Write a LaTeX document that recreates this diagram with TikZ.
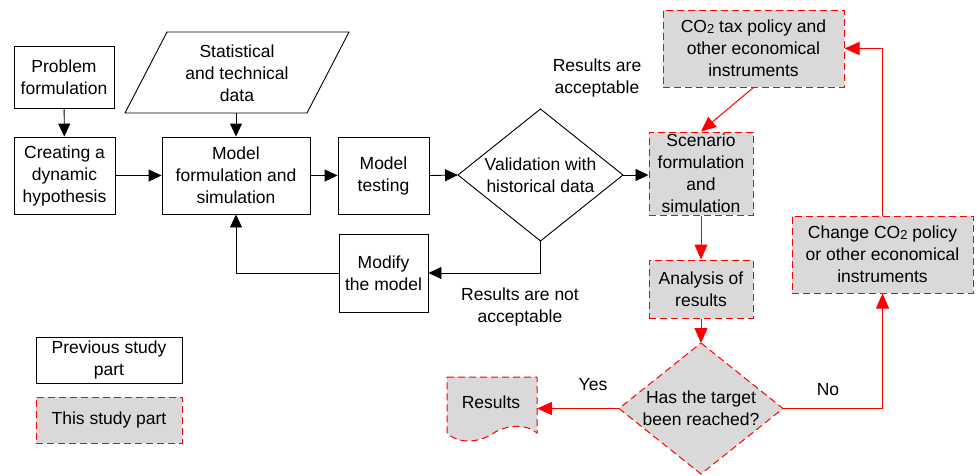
\documentclass[tikz,border=0pt]{standalone}
\usepackage{fontspec}
\setmainfont{Liberation Sans}
\usetikzlibrary{arrows.meta}
\definecolor{boxgray}{HTML}{D9D9D9}
\newcommand{\cotwo}{CO\raisebox{-0.5pt}{\fontsize{13}{13}\selectfont 2}}
\tikzset{
  base/.style={font=\fontsize{17.5}{22}\selectfont, align=center, inner sep=0pt},
  prev/.style={base, draw=black, line width=0.9pt, fill=white},
  this/.style={base, draw=red, fill=boxgray, line width=1pt, dash pattern=on 7pt off 4pt},
  blk/.style={-{Triangle[length=13pt,width=12pt]}, line width=0.9pt, black},
  rd/.style={-{Triangle[length=15pt,width=13pt]}, line width=1pt, red},
  lbl/.style={base},
}
\begin{document}
\begin{tikzpicture}[x=1pt,y=-1pt]
\useasboundingbox (0,0) rectangle (977,475);
% left column
\node[prev, minimum width=100pt, minimum height=62pt] (prob) at (64,77) {Problem\\formulation};
\node[prev, minimum width=101pt, minimum height=77pt] (hyp) at (64.5,175.5) {Creating a\\dynamic\\hypothesis};
% data parallelogram
\draw[line width=0.9pt] (167,32) -- (349,32) -- (307,113) -- (125,113) -- cycle;
\node[base] (data) at (237,73) {Statistical\\and technical\\data};
\coordinate (dbot) at (236,113);
\node[prev, minimum width=148pt, minimum height=77pt] (mf) at (236,175.5) {Model\\formulation and\\simulation};
\node[prev, minimum width=91pt, minimum height=77pt] (mt) at (383.5,175.5) {Model\\testing};
% validation diamond
\coordinate (v1n) at (540.5,109);
\coordinate (v1e) at (623,175);
\coordinate (v1s) at (540.5,241);
\coordinate (v1w) at (458,175);
\draw[line width=0.9pt] (v1n) -- (v1e) -- (v1s) -- (v1w) -- cycle;
\node[base] (val) at (540.5,175) {Validation with\\historical data};
\node[prev, minimum width=89pt, minimum height=78pt] (mod) at (383.5,273) {Modify\\the model};
% labels
\node[lbl] (acc) at (597,78) {Results are\\acceptable};
\node[lbl] (nacc) at (520,307) {Results are not\\acceptable};
% right part
\node[this, minimum width=181pt, minimum height=77pt] (tax) at (753.5,48.5) {\cotwo{} tax policy and\\other economical\\instruments};
\node[this, minimum width=104pt, minimum height=83pt] (scen) at (701,173.5) {Scenario\\formulation\\and\\simulation};
\node[this, minimum width=104pt, minimum height=58pt] (ana) at (701,289) {Analysis of\\results};
\node[this, minimum width=181pt, minimum height=77pt] (chg) at (882.5,254.5) {Change \cotwo{} policy\\or other economical\\instruments};
% target diamond
\coordinate (v2n) at (701,343);
\coordinate (v2e) at (783,408.5);
\coordinate (v2s) at (701,474);
\coordinate (v2w) at (619,408.5);
\draw[red, fill=boxgray, line width=1pt, dash pattern=on 7pt off 4pt] (v2n) -- (v2e) -- (v2s) -- (v2w) -- cycle;
\node[base] (tgt) at (701,408.5) {Has the target\\been reached?};
% results document
\draw[red, fill=boxgray, line width=1pt, dash pattern=on 7pt off 4pt]
  (447,377) -- (537,377) -- (537,433)
  .. controls (527,424) and (507,424) .. (492,434)
  .. controls (478,443) and (458,444) .. (447,433) -- cycle;
\node[base] (res) at (491,402) {Results};
\coordinate (rese) at (537,408.5);
% legend
\node[prev, minimum width=146pt, minimum height=46pt] (lg1) at (109,360) {Previous study\\part};
\node[this, minimum width=146pt, minimum height=46pt] (lg2) at (109,420) {This study part};
% yes / no
\node[lbl] (yes) at (593,385) {Yes};
\node[lbl] (no) at (828,390) {No};
% black connectors
\draw[blk] (prob) -- (hyp);
\draw[blk] (hyp) -- (mf);
\draw[blk] (dbot) -- (mf.north);
\draw[blk] (mf) -- (mt);
\draw[blk] (mt.east) -- (v1w);
\draw[blk] (v1e) -- (v1e -| scen.west);
\draw[blk] (v1s) |- (mod.east);
\draw[blk] (mod.west) -| (mf.south);
% red connectors
\draw[rd] (tax.south) -- (scen.north);
\draw[rd] (scen) -- (ana);
\draw[rd] (ana.south) -- (v2n);
\draw[rd] (v2w) -- (rese);
\draw[rd] (v2e) -| (chg.south);
\draw[rd] (chg.north) |- (tax.east);
\end{tikzpicture}
\end{document}
